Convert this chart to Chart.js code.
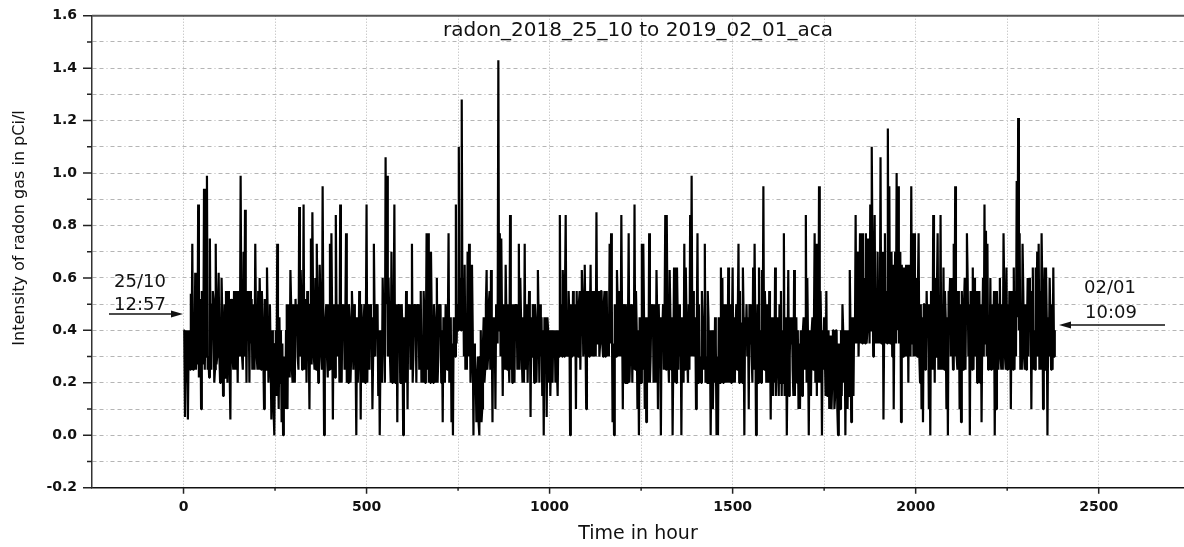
<!DOCTYPE html>
<html lang="en">

<head>
   <meta charset="UTF-8">
   <title>Radon</title>
   <style>
      body { margin: 0; background: #fff; }
   </style>
</head>

<body>
   <canvas id="radon-chart" width="1184" height="547"></canvas>
   <script src="https://cdn.jsdelivr.net/npm/chart.js"></script>
   <script>

      //*************************  DATA  *****************//

      // radon intensity (pCi/l), one reading every 2 hours from 25/10 12:57
      const sampleStep = 2;

      // hours 0 - 398
      const radonA = [
         0.40, 0.40, 0.07, 0.38, 0.20, 0.40, 0.06, 0.35, 0.40, 0.25, 0.54, 0.30, 0.73, 0.25, 0.45, 0.28, 0.62, 0.25, 0.35, 0.27,
         0.88, 0.22, 0.30, 0.52, 0.10, 0.55, 0.50, 0.27, 0.94, 0.25, 0.45, 0.30, 0.99, 0.25, 0.30, 0.22, 0.75, 0.30, 0.25, 0.50,
         0.55, 0.52, 0.20, 0.25, 0.73, 0.27, 0.30, 0.50, 0.62, 0.30, 0.20, 0.27, 0.60, 0.45, 0.15, 0.25, 0.50, 0.22, 0.55, 0.45,
         0.20, 0.55, 0.45, 0.25, 0.06, 0.52, 0.50, 0.30, 0.25, 0.55, 0.45, 0.25, 0.55, 0.40, 0.20, 0.55, 0.40, 0.30, 0.99, 0.45,
         0.30, 0.25, 0.70, 0.30, 0.86, 0.50, 0.20, 0.55, 0.40, 0.52, 0.20, 0.55, 0.35, 0.52, 0.25, 0.45, 0.50, 0.25, 0.73, 0.45,
         0.30, 0.25, 0.55, 0.25, 0.60, 0.45, 0.25, 0.55, 0.45, 0.30, 0.10, 0.52, 0.40, 0.25, 0.64, 0.45, 0.20, 0.27, 0.50, 0.30,
         0.06, 0.40, 0.30, 0.10, 0.00, 0.35, 0.40, 0.15, 0.73, 0.30, 0.10, 0.45, 0.20, 0.40, 0.05, 0.35, 0.00, 0.30, 0.20, 0.10,
         0.40, 0.50, 0.10, 0.50, 0.35, 0.22, 0.63, 0.50, 0.25, 0.20, 0.50, 0.45, 0.20, 0.52, 0.40, 0.50, 0.30, 0.25, 0.87, 0.30,
         0.63, 0.50, 0.25, 0.30, 0.88, 0.25, 0.35, 0.52, 0.20, 0.55, 0.45, 0.35, 0.10, 0.50, 0.75, 0.27, 0.85, 0.50, 0.30, 0.25,
         0.60, 0.25, 0.73, 0.50, 0.20, 0.30, 0.65, 0.50, 0.30, 0.25, 0.95, 0.45, 0.00, 0.30, 0.45, 0.50, 0.30, 0.22, 0.50, 0.25
      ];
      // hours 400 - 798
      const radonB = [
         0.73, 0.25, 0.77, 0.45, 0.06, 0.50, 0.40, 0.22, 0.84, 0.45, 0.30, 0.50, 0.45, 0.20, 0.88, 0.45, 0.20, 0.50, 0.40, 0.50,
         0.25, 0.45, 0.77, 0.20, 0.30, 0.20, 0.50, 0.45, 0.20, 0.30, 0.55, 0.45, 0.25, 0.50, 0.40, 0.30, 0.00, 0.45, 0.20, 0.30,
         0.55, 0.45, 0.06, 0.50, 0.35, 0.20, 0.42, 0.50, 0.20, 0.40, 0.88, 0.20, 0.50, 0.45, 0.25, 0.50, 0.40, 0.45, 0.10, 0.30,
         0.73, 0.45, 0.30, 0.50, 0.40, 0.50, 0.15, 0.40, 0.00, 0.30, 0.40, 0.20, 0.60, 0.45, 0.35, 0.20, 1.06, 0.50, 0.99, 0.30,
         0.60, 0.45, 0.30, 0.20, 0.70, 0.20, 0.35, 0.45, 0.88, 0.20, 0.30, 0.50, 0.05, 0.50, 0.40, 0.50, 0.20, 0.25, 0.50, 0.40,
         0.00, 0.45, 0.30, 0.20, 0.55, 0.45, 0.10, 0.50, 0.35, 0.50, 0.25, 0.45, 0.73, 0.20, 0.30, 0.50, 0.40, 0.50, 0.20, 0.50,
         0.40, 0.50, 0.25, 0.45, 0.55, 0.20, 0.30, 0.20, 0.55, 0.45, 0.20, 0.35, 0.77, 0.25, 0.77, 0.20, 0.40, 0.20, 0.70, 0.45,
         0.30, 0.20, 0.50, 0.45, 0.20, 0.40, 0.60, 0.20, 0.30, 0.50, 0.45, 0.50, 0.20, 0.40, 0.05, 0.45, 0.35, 0.20, 0.50, 0.45,
         0.25, 0.40, 0.77, 0.20, 0.30, 0.45, 0.05, 0.35, 0.00, 0.45, 0.40, 0.30, 0.88, 0.35, 0.50, 0.40, 1.10, 0.45, 0.60, 0.40,
         1.28, 0.40, 0.60, 0.30, 0.65, 0.25, 0.30, 0.25, 0.70, 0.30, 0.73, 0.50, 0.20, 0.30, 0.65, 0.40, 0.00, 0.35, 0.30, 0.25
      ];
      // hours 800 - 1198
      const radonC = [
         0.05, 0.25, 0.30, 0.05, 0.00, 0.30, 0.40, 0.05, 0.10, 0.35, 0.45, 0.20, 0.25, 0.50, 0.63, 0.25, 0.30, 0.50, 0.55, 0.25,
         0.63, 0.40, 0.05, 0.45, 0.30, 0.45, 0.10, 0.50, 0.45, 0.35, 1.43, 0.40, 0.77, 0.30, 0.75, 0.45, 0.15, 0.50, 0.40, 0.25,
         0.65, 0.45, 0.25, 0.50, 0.30, 0.20, 0.84, 0.25, 0.50, 0.20, 0.30, 0.50, 0.20, 0.50, 0.45, 0.50, 0.25, 0.45, 0.73, 0.25,
         0.60, 0.45, 0.30, 0.20, 0.45, 0.20, 0.73, 0.25, 0.40, 0.50, 0.20, 0.40, 0.55, 0.45, 0.07, 0.45, 0.30, 0.50, 0.40, 0.20,
         0.50, 0.45, 0.20, 0.35, 0.63, 0.45, 0.20, 0.50, 0.30, 0.45, 0.15, 0.40, 0.00, 0.45, 0.30, 0.45, 0.07, 0.45, 0.40, 0.20,
         0.40, 0.15, 0.30, 0.40, 0.20, 0.40, 0.35, 0.40, 0.20, 0.40, 0.25, 0.15, 0.40, 0.30, 0.84, 0.30, 0.50, 0.30, 0.63, 0.50,
         0.30, 0.55, 0.84, 0.30, 0.35, 0.30, 0.55, 0.45, 0.00, 0.50, 0.30, 0.30, 0.55, 0.50, 0.30, 0.50, 0.10, 0.55, 0.35, 0.30,
         0.50, 0.55, 0.25, 0.45, 0.63, 0.55, 0.30, 0.35, 0.65, 0.40, 0.10, 0.55, 0.47, 0.55, 0.30, 0.45, 0.65, 0.30, 0.55, 0.50,
         0.30, 0.35, 0.55, 0.30, 0.85, 0.35, 0.43, 0.55, 0.30, 0.35, 0.55, 0.55, 0.35, 0.30, 0.50, 0.55, 0.30, 0.35, 0.55, 0.30,
         0.40, 0.30, 0.73, 0.35, 0.77, 0.50, 0.05, 0.35, 0.00, 0.50, 0.43, 0.30, 0.63, 0.50, 0.30, 0.55, 0.45, 0.30, 0.84, 0.45
      ];
      // hours 1200 - 1598
      const radonD = [
         0.10, 0.50, 0.35, 0.20, 0.50, 0.45, 0.20, 0.40, 0.77, 0.20, 0.30, 0.50, 0.45, 0.20, 0.50, 0.25, 0.88, 0.25, 0.55, 0.40,
         0.10, 0.40, 0.00, 0.45, 0.40, 0.20, 0.73, 0.25, 0.73, 0.45, 0.10, 0.45, 0.05, 0.45, 0.35, 0.20, 0.77, 0.20, 0.30, 0.50,
         0.45, 0.50, 0.20, 0.50, 0.30, 0.20, 0.63, 0.45, 0.10, 0.50, 0.35, 0.45, 0.00, 0.45, 0.40, 0.50, 0.25, 0.45, 0.84, 0.25,
         0.84, 0.45, 0.30, 0.20, 0.63, 0.45, 0.25, 0.45, 0.00, 0.30, 0.64, 0.20, 0.40, 0.20, 0.64, 0.45, 0.25, 0.50, 0.30, 0.45,
         0.00, 0.45, 0.40, 0.20, 0.73, 0.25, 0.64, 0.45, 0.30, 0.20, 0.50, 0.25, 0.84, 0.30, 0.99, 0.30, 0.55, 0.45, 0.30, 0.45,
         0.10, 0.40, 0.77, 0.20, 0.50, 0.20, 0.30, 0.20, 0.55, 0.45, 0.25, 0.45, 0.73, 0.20, 0.30, 0.20, 0.55, 0.45, 0.20, 0.40,
         0.00, 0.30, 0.40, 0.10, 0.30, 0.20, 0.45, 0.35, 0.00, 0.30, 0.00, 0.45, 0.35, 0.20, 0.64, 0.25, 0.60, 0.20, 0.40, 0.50,
         0.20, 0.50, 0.45, 0.20, 0.64, 0.20, 0.35, 0.50, 0.20, 0.40, 0.64, 0.20, 0.45, 0.20, 0.40, 0.50, 0.25, 0.45, 0.73, 0.20,
         0.55, 0.20, 0.43, 0.20, 0.64, 0.45, 0.00, 0.45, 0.35, 0.50, 0.30, 0.45, 0.10, 0.50, 0.35, 0.50, 0.30, 0.20, 0.64, 0.25,
         0.73, 0.40, 0.00, 0.30, 0.50, 0.20, 0.64, 0.20, 0.40, 0.20, 0.63, 0.30, 0.95, 0.25, 0.55, 0.45, 0.20, 0.50, 0.40, 0.20
      ];
      // hours 1600 - 1998
      const radonE = [
         0.55, 0.40, 0.06, 0.45, 0.30, 0.15, 0.45, 0.20, 0.64, 0.15, 0.40, 0.45, 0.25, 0.15, 0.50, 0.20, 0.55, 0.15, 0.40, 0.20,
         0.77, 0.15, 0.30, 0.45, 0.00, 0.30, 0.63, 0.15, 0.30, 0.45, 0.35, 0.45, 0.25, 0.15, 0.63, 0.15, 0.40, 0.45, 0.20, 0.40,
         0.10, 0.35, 0.10, 0.40, 0.30, 0.15, 0.40, 0.45, 0.25, 0.40, 0.84, 0.20, 0.60, 0.35, 0.00, 0.40, 0.30, 0.15, 0.40, 0.45,
         0.25, 0.40, 0.77, 0.20, 0.73, 0.15, 0.50, 0.20, 0.95, 0.20, 0.55, 0.40, 0.00, 0.40, 0.25, 0.45, 0.30, 0.15, 0.55, 0.15,
         0.30, 0.40, 0.10, 0.35, 0.38, 0.10, 0.20, 0.40, 0.40, 0.10, 0.15, 0.40, 0.40, 0.10, 0.00, 0.35, 0.30, 0.10, 0.40, 0.15,
         0.50, 0.40, 0.20, 0.40, 0.00, 0.40, 0.30, 0.10, 0.40, 0.15, 0.63, 0.40, 0.05, 0.45, 0.30, 0.15, 0.45, 0.35, 0.84, 0.35,
         0.40, 0.70, 0.30, 0.50, 0.77, 0.35, 0.45, 0.35, 0.77, 0.35, 0.60, 0.35, 0.77, 0.35, 0.40, 0.75, 0.70, 0.35, 0.88, 0.40,
         1.10, 0.70, 0.30, 0.45, 0.84, 0.35, 0.50, 0.35, 0.70, 0.35, 0.45, 0.35, 1.06, 0.35, 0.60, 0.70, 0.06, 0.40, 0.77, 0.35,
         0.55, 0.35, 1.17, 0.40, 0.95, 0.35, 0.60, 0.70, 0.30, 0.65, 0.10, 0.50, 0.70, 0.35, 1.00, 0.40, 0.95, 0.35, 0.60, 0.70,
         0.05, 0.65, 0.55, 0.30, 0.64, 0.30, 0.40, 0.65, 0.30, 0.60, 0.20, 0.65, 0.50, 0.30, 0.95, 0.35, 0.77, 0.30, 0.77, 0.30
      ];
      // hours 2000 - 2380
      const radonF = [
         0.50, 0.60, 0.30, 0.55, 0.77, 0.30, 0.20, 0.50, 0.10, 0.45, 0.05, 0.50, 0.50, 0.25, 0.30, 0.55, 0.40, 0.50, 0.10, 0.40,
         0.00, 0.55, 0.40, 0.25, 0.84, 0.55, 0.20, 0.60, 0.30, 0.55, 0.77, 0.25, 0.40, 0.25, 0.84, 0.25, 0.50, 0.25, 0.64, 0.25,
         0.55, 0.45, 0.10, 0.45, 0.00, 0.55, 0.50, 0.60, 0.30, 0.60, 0.40, 0.25, 0.73, 0.30, 0.95, 0.55, 0.30, 0.25, 0.55, 0.50,
         0.10, 0.50, 0.05, 0.55, 0.40, 0.25, 0.50, 0.60, 0.25, 0.55, 0.77, 0.60, 0.30, 0.50, 0.00, 0.55, 0.50, 0.25, 0.64, 0.25,
         0.60, 0.55, 0.30, 0.55, 0.20, 0.55, 0.40, 0.55, 0.20, 0.50, 0.05, 0.40, 0.60, 0.30, 0.88, 0.35, 0.78, 0.30, 0.73, 0.25,
         0.40, 0.25, 0.60, 0.25, 0.50, 0.25, 0.40, 0.55, 0.00, 0.45, 0.10, 0.55, 0.40, 0.25, 0.50, 0.60, 0.30, 0.25, 0.50, 0.25,
         0.77, 0.55, 0.30, 0.25, 0.64, 0.25, 0.50, 0.25, 0.55, 0.50, 0.10, 0.55, 0.45, 0.25, 0.64, 0.25, 0.55, 0.30, 0.97, 0.45,
         1.21, 0.40, 0.77, 0.25, 0.50, 0.25, 0.73, 0.55, 0.30, 0.25, 0.50, 0.25, 0.40, 0.60, 0.30, 0.60, 0.45, 0.55, 0.10, 0.50,
         0.64, 0.25, 0.40, 0.25, 0.64, 0.30, 0.70, 0.30, 0.73, 0.25, 0.55, 0.25, 0.77, 0.55, 0.10, 0.40, 0.64, 0.25, 0.64, 0.45,
         0.00, 0.45, 0.30, 0.60, 0.45, 0.25, 0.50, 0.25, 0.64, 0.30, 0.40
      ];

      const xTicks = [-250, 0, 250, 500, 750, 1000, 1250, 1500, 1750, 2000, 2250, 2500];
      const yTicks = [-0.2, -0.1, 0.0, 0.1, 0.2, 0.3, 0.4, 0.5, 0.6, 0.7, 0.8, 0.9, 1.0, 1.1, 1.2, 1.3, 1.4, 1.5, 1.6];

      const chartTitle = 'radon_2018_25_10 to 2019_02_01_aca';
      const xTitle = 'Time in hour';
      const yTitle = 'Intensity of radon gas in pCi/l';
      const startNote = ['25/10', '12:57'];
      const endNote = ['02/01', '10:09'];

      const radon = [].concat(radonA, radonB, radonC, radonD, radonE, radonF);
      const points = radon.map((v, i) => ({ x: i * sampleStep, y: v }));

      //*************************  EXTRAS (ticks, frame, notes)  *****************//

      const isMajorY = v => Math.round(v * 10) % 2 === 0;

      function arrow(ctx, x1, x2, y) {
         // line from x1 to x2, head at x2
         const dir = x2 > x1 ? 1 : -1;
         ctx.beginPath();
         ctx.moveTo(x1, y);
         ctx.lineTo(x2 - dir * 8, y);
         ctx.stroke();
         ctx.beginPath();
         ctx.moveTo(x2, y);
         ctx.lineTo(x2 - dir * 12, y - 3.5);
         ctx.lineTo(x2 - dir * 12, y + 3.5);
         ctx.closePath();
         ctx.fill();
      }

      const extras = {
         id: 'extras',
         afterDraw(chart) {
            const ctx = chart.ctx;
            const xs = chart.scales.x, ys = chart.scales.y;
            const area = chart.chartArea;

            ctx.save();
            // top frame line
            ctx.strokeStyle = '#555';
            ctx.lineWidth = 2;
            ctx.beginPath();
            ctx.moveTo(area.left, area.top);
            ctx.lineTo(area.right, area.top);
            ctx.stroke();

            // tick marks, major ones longer
            ctx.strokeStyle = '#222';
            ctx.lineWidth = 1.5;
            ctx.beginPath();
            ys.ticks.forEach(t => {
               const py = ys.getPixelForValue(t.value);
               ctx.moveTo(area.left - (isMajorY(t.value) ? 9 : 5), py);
               ctx.lineTo(area.left, py);
            });
            xs.ticks.forEach(t => {
               if (t.value < 0) return;
               const px = xs.getPixelForValue(t.value);
               ctx.moveTo(px, area.bottom);
               ctx.lineTo(px, area.bottom + (t.value % 500 === 0 ? 6 : 3));
            });
            ctx.stroke();

            // title inside the frame
            ctx.fillStyle = '#111';
            ctx.textAlign = 'center';
            ctx.textBaseline = 'middle';
            ctx.font = '20px "DejaVu Sans"';
            ctx.fillText(chartTitle, 638, 31);

            // axis titles
            ctx.font = '19px "DejaVu Sans"';
            ctx.fillText(xTitle, (area.left + area.right) / 2, 534);
            ctx.save();
            ctx.translate(20, 228);
            ctx.rotate(-Math.PI / 2);
            ctx.font = '16px "DejaVu Sans"';
            ctx.fillText(yTitle, 0, 0);
            ctx.restore();

            // start / end notes
            ctx.font = '18px "DejaVu Sans"';
            ctx.fillText(startNote[0], 140, 282);
            ctx.fillText(startNote[1], 140, 305);
            ctx.fillText(endNote[0], 1110, 288);
            ctx.fillText(endNote[1], 1111, 313);
            ctx.strokeStyle = '#111';
            ctx.lineWidth = 1.3;
            arrow(ctx, 109, 183, 314);
            arrow(ctx, 1165, 1059, 325);
            ctx.restore();
         }
      };

      //*************************  CHART  *****************//

      const tickFont = { family: 'DejaVu Sans', size: 14, weight: 'bold' };

      new Chart(document.getElementById('radon-chart'), {
         type: 'line',
         data: {
            datasets: [{
               data: points,
               borderColor: '#000',
               borderWidth: 2.2,
               borderJoinStyle: 'bevel',
               pointRadius: 0,
               tension: 0,
               fill: false
            }]
         },
         options: {
            responsive: false,
            animation: false,
            devicePixelRatio: 1,
            layout: { padding: { top: 15.7, right: 0, left: 0, bottom: 0 } },
            plugins: {
               legend: { display: false },
               tooltip: { enabled: false }
            },
            scales: {
               x: {
                  type: 'linear',
                  min: -250,
                  max: 2733,
                  afterBuildTicks: s => { s.ticks = xTicks.map(v => ({ value: v })); },
                  afterFit: s => { s.height = 59.3; s.paddingLeft = 0; s.paddingRight = 0; },
                  ticks: {
                     autoSkip: false,
                     maxRotation: 0,
                     padding: 11,
                     color: '#111',
                     font: tickFont,
                     callback: v => (v >= 0 && v % 500 === 0 ? String(v) : '')
                  },
                  grid: {
                     drawTicks: false,
                     color: c => (c.tick && c.tick.value > -250 ? '#b5b5b5' : 'rgba(0,0,0,0)'),
                     lineWidth: 1
                  },
                  border: { display: true, color: '#111', width: 1.5, dash: [1, 2] }
               },
               y: {
                  min: -0.2,
                  max: 1.6,
                  afterBuildTicks: s => { s.ticks = yTicks.map(v => ({ value: v })); },
                  afterFit: s => { s.width = 92; s.paddingTop = 0; s.paddingBottom = 0; },
                  ticks: {
                     autoSkip: false,
                     padding: 15,
                     color: '#111',
                     font: tickFont,
                     callback: v => (isMajorY(v) ? (Math.round(v * 10) / 10).toFixed(1) : '')
                  },
                  grid: {
                     drawTicks: false,
                     color: c => {
                        const v = c.tick ? c.tick.value : -0.2;
                        return v > -0.15 && v < 1.55 ? '#b5b5b5' : 'rgba(0,0,0,0)';
                     },
                     lineWidth: 1
                  },
                  border: { display: true, color: '#333', width: 1.5, dash: [4, 3, 4, 3, 1, 3] }
               }
            }
         },
         plugins: [extras]
      });
   </script>
</body>

</html>
